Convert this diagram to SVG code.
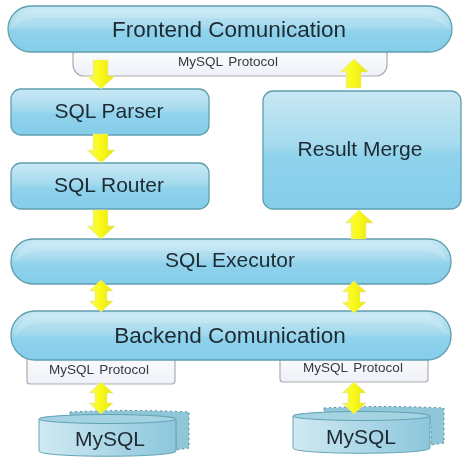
<svg xmlns="http://www.w3.org/2000/svg" width="471" height="464" viewBox="0 0 471 464">
<defs>
<linearGradient id="blue" x1="0" y1="0" x2="0" y2="1"><stop offset="0" stop-color="#c8e8f3"/><stop offset="0.45" stop-color="#a5daee"/><stop offset="0.55" stop-color="#8fd2ec"/><stop offset="1" stop-color="#85cdea"/></linearGradient>
<linearGradient id="cyl" x1="0" y1="0" x2="1" y2="0"><stop offset="0" stop-color="#d0e9f2"/><stop offset="1" stop-color="#8cc6dc"/></linearGradient>
<linearGradient id="paper" x1="0" y1="0" x2="0" y2="1"><stop offset="0" stop-color="#ffffff"/><stop offset="1" stop-color="#eef1f8"/></linearGradient>
<linearGradient id="yel" x1="0" y1="0" x2="1" y2="0"><stop offset="0" stop-color="#f2f07a"/><stop offset="0.4" stop-color="#fbfb1e"/><stop offset="1" stop-color="#e8e410"/></linearGradient>
<filter id="soft" x="-5%" y="-5%" width="110%" height="110%"><feGaussianBlur stdDeviation="0.45"/></filter>
<path id="down" d="M-8 0H7V16H14L0 29L-14 16H-8Z"/>
<path id="dbl" d="M0 0L12 11H6V21H12L0 32L-12 21H-6V11H-12Z"/>
</defs>
<style>
.g{filter:url(#soft)}
.b{fill:url(#blue);stroke:#5f9fae;stroke-width:1.3}
.p{fill:url(#paper);stroke:#adadad;stroke-width:1.2}
.a{fill:url(#yel);stroke:#e6e6a0;stroke-width:.5}
.c{fill:url(#cyl);stroke:#62a3b5;stroke-width:1}
.k{fill:#8fc6d8;stroke:#5f8f9f;stroke-width:1;stroke-dasharray:2 3}
.h{fill:#fff;fill-opacity:.16}
.t{font-family:"Liberation Sans",Arial,sans-serif;fill:#1f2a33;text-anchor:middle;font-size:21px}
.l{font-size:22.500px}
.s{font-family:"Liberation Sans",Arial,sans-serif;fill:#333a42;text-anchor:middle;font-size:13.500px;word-spacing:2px}
</style>
<g id="protocol-top" class="g"><rect class="p" x="73" y="44" width="314" height="32" rx="11"/><text class="s" x="228" y="66">MySQL Protocol</text></g>
<g id="frontend" class="g"><rect class="b" x="8" y="6" width="444" height="46" rx="23"/><path class="h" d="M12 29C14 16 24 9 36 9H424C436 9 446 16 448 29C440 20 430 18 420 18H40C30 18 20 20 12 29Z"/><text class="t l" x="229" y="37">Frontend Comunication</text></g>
<g id="parser" class="g"><rect class="b" x="11" y="89" width="198" height="46" rx="10"/><text class="t" x="109" y="118">SQL Parser</text></g>
<g id="router" class="g"><rect class="b" x="11" y="163" width="198" height="46" rx="10"/><text class="t" x="109" y="192">SQL Router</text></g>
<g id="merge" class="g"><rect class="b" x="263" y="91" width="198" height="118" rx="10"/><text class="t" x="360" y="156">Result Merge</text></g>
<g id="executor" class="g"><rect class="b" x="11" y="239" width="440" height="45" rx="22"/><path class="h" d="M15 262C17 249 27 242 39 242H423C435 242 445 249 447 262C439 253 429 251 419 251H43C33 251 23 253 15 262Z"/><text class="t" x="230" y="267">SQL Executor</text></g>
<g id="protocol-left" class="g"><rect class="p" x="27" y="345" width="148" height="39" rx="3"/><text class="s" x="99" y="374">MySQL Protocol</text></g>
<g id="protocol-right" class="g"><rect class="p" x="280" y="345" width="148" height="37" rx="3"/><text class="s" x="353" y="372">MySQL Protocol</text></g>
<g id="backend" class="g"><rect class="b" x="11" y="311" width="440" height="49" rx="24"/><path class="h" d="M15 336C17 322 27 314 39 314H423C435 314 445 322 447 336C439 326 429 323 419 323H43C33 323 23 326 15 336Z"/><text class="t l" x="230" y="343">Backend Comunication</text></g>
<g id="mysql-left" class="g"><path class="k" d="M70 412Q130 409 189 412V448L176 450V430H70Z"/><path class="c" d="M39 419C39 414 176 414 176 419V451C176 458 39 458 39 451Z"/><ellipse cx="107.500" cy="419" rx="68.500" ry="4.500" fill="#a4d3e2" stroke="#62a3b5"/><text class="t" x="110" y="446">MySQL</text></g>
<g id="mysql-right" class="g"><path class="k" d="M324 408Q384 405 444 408V443L431 445V425H324Z"/><path class="c" d="M293 416C293 411 430 411 430 416V448C430 455 293 455 293 448Z"/><ellipse cx="361.500" cy="416" rx="68.500" ry="4.500" fill="#a4d3e2" stroke="#62a3b5"/><text class="t" x="361" y="444">MySQL</text></g>
<g id="connectors" class="g">
<use href="#down" class="a" x="101" y="60"/>
<use href="#down" class="a" x="101" y="134"/>
<use href="#down" class="a" x="101" y="210"/>
<use href="#down" class="a" transform="translate(354 88) scale(1 -1)"/>
<use href="#down" class="a" transform="translate(359 239) scale(1 -1)"/>
<use href="#dbl" class="a" x="101" y="280"/>
<use href="#dbl" class="a" x="354" y="281"/>
<use href="#dbl" class="a" x="101" y="382"/>
<use href="#dbl" class="a" x="354" y="382"/>
</g>
</svg>
